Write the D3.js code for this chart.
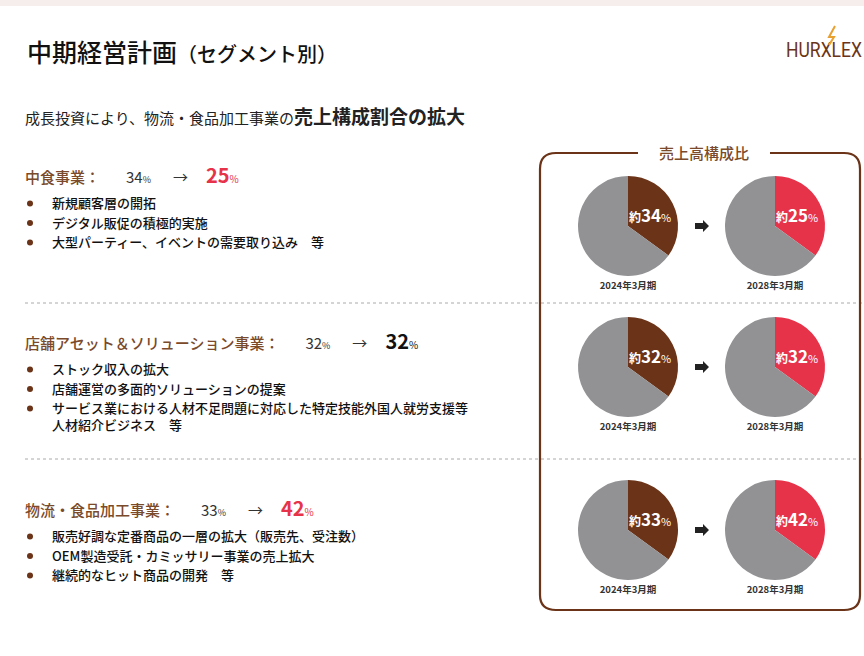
<!DOCTYPE html><html><head><meta charset="utf-8"><script src="https://cdn.jsdelivr.net/npm/d3@7"></script>
<style>body{margin:0;background:#fff}svg{font-family:"Noto Sans CJK JP",sans-serif}</style></head><body><svg id="c" width="864" height="656"></svg>
<script>
const segments=["中食事業","店舗アセット＆ソリューション事業","物流・食品加工事業"];
const share2024=[34,32,33];
const share2028=[25,32,42];
const drawnShare2024=[35,35,35];
const drawnShare2028=[35,35,35];
const periods=["2024年3月期","2028年3月期"];
const bullets=[["新規顧客層の開拓","デジタル販促の積極的実施","大型パーティー、イベントの需要取り込み　等"],
["ストック収入の拡大","店舗運営の多面的ソリューションの提案","サービス業における人材不足問題に対応した特定技能外国人就労支援等|人材紹介ビジネス　等"],
["販売好調な定番商品の一層の拡大（販売先、受注数）","OEM製造受託・カミッサリー事業の売上拡大","継続的なヒット商品の開発　等"]];
const brown="#6b3418",red="#e6334a",grey="#929194",hdr="#7a4a2a";
const svg=d3.select("#c");
svg.append("rect").attr("width",864).attr("height",6).attr("fill","#f6eeec");
const tt=svg.append("text").attr("x",27).attr("y",62).attr("font-size",25).attr("font-weight",500).attr("fill","#111").text("中期経営計画");
tt.append("tspan").attr("font-size",20).text("（セグメント別）");
svg.append("text").attr("x",786).attr("y",57).attr("font-size",21).attr("fill",brown).attr("font-family","Liberation Sans Narrow, Roboto").attr("textLength",76).attr("lengthAdjust","spacingAndGlyphs").text("HURXLEX");
svg.append("path").attr("d","M835 26 L829 37 L834 37 L829 45").attr("stroke","#e8a030").attr("stroke-width",2).attr("fill","none");
const t2=svg.append("text").attr("x",25).attr("y",124).attr("font-size",15).attr("fill","#222").text("成長投資により、物流・食品加工事業の");
t2.append("tspan").attr("font-size",19).attr("font-weight",700).text("売上構成割合の拡大");

[303,459].forEach(y=>svg.append("line").attr("x1",25).attr("x2",862).attr("y1",y).attr("y2",y).attr("stroke","#aaa").attr("stroke-dasharray","3,3"));

svg.append("path").attr("d","M638 153 L556 153 Q540 153 540 169 L540 595 Q540 610 556 610 L844 610 Q860 610 860 595 L860 169 Q860 153 844 153 L770 153")
 .attr("fill","none").attr("stroke",brown).attr("stroke-width",2.2);
svg.append("text").attr("x",704).attr("y",159).attr("text-anchor","middle").attr("font-size",15).attr("font-weight",500).attr("fill",hdr).text("売上高構成比");

const rowY=[226,367,530], hdrY=[183,349,516];
const pie=d3.pie().sort(null).value(d=>d);
const arc=d3.arc().innerRadius(0).outerRadius(50);
segments.forEach((s,i)=>{
  const h=svg.append("text").attr("x",25).attr("y",hdrY[i]).attr("font-size",15).attr("font-weight",500).attr("fill",hdr).text(s+"：");
  const w=h.node().getComputedTextLength();
  const g=svg.append("text").attr("x",25+w+26).attr("y",hdrY[i]).attr("fill","#333").attr("font-size",15);
  g.append("tspan").text(share2024[i]);
  g.append("tspan").attr("font-size",9).text("%");
  g.append("tspan").attr("dx",22).text("→");
  const col=share2028[i]===share2024[i]?"#111":red;
  g.append("tspan").attr("dx",18).attr("font-size",20).attr("font-weight",700).attr("fill",col).text(share2028[i]);
  g.append("tspan").attr("font-size",10).attr("fill",col).text("%");
  let y=hdrY[i]+25;
  bullets[i].forEach(b=>{
    svg.append("circle").attr("cx",30).attr("cy",y-4.5).attr("r",3).attr("fill",brown);
    const lines=b.split("|");
    lines.forEach((line,k)=>{
      svg.append("text").attr("x",52).attr("y",y).attr("font-size",13).attr("font-weight",500).attr("fill","#111").text(line);
      y+= k<lines.length-1?17:15.5;
    });
    y+=4;
  });
  [[628,drawnShare2024[i],share2024[i],brown,periods[0]],[775,drawnShare2028[i],share2028[i],red,periods[1]]].forEach(([cx,d,v,c,p])=>{
    const gg=svg.append("g").attr("transform",`translate(${cx},${rowY[i]})`);
    gg.selectAll("path").data(pie([d,100-d])).join("path").attr("d",arc).attr("fill",(e,k)=>k?grey:c);
    const lt=gg.append("text").attr("x",22).attr("y",-4).attr("text-anchor","middle").attr("fill","#fff").attr("font-weight",700).attr("font-size",12).text("約");
    lt.append("tspan").attr("font-size",17).text(v);
    lt.append("tspan").attr("font-size",11).attr("font-weight",400).text("%");
    svg.append("text").attr("x",cx).attr("y",rowY[i]+63).attr("text-anchor","middle").attr("font-size",9.5).attr("font-weight",700).attr("fill","#333").text(p);
  });
  svg.append("path").attr("d",`M695 ${rowY[i]-3} L703 ${rowY[i]-3} L703 ${rowY[i]-6} L709 ${rowY[i]} L703 ${rowY[i]+6} L703 ${rowY[i]+3} L695 ${rowY[i]+3} Z`).attr("fill","#222");
});
</script></body></html>
